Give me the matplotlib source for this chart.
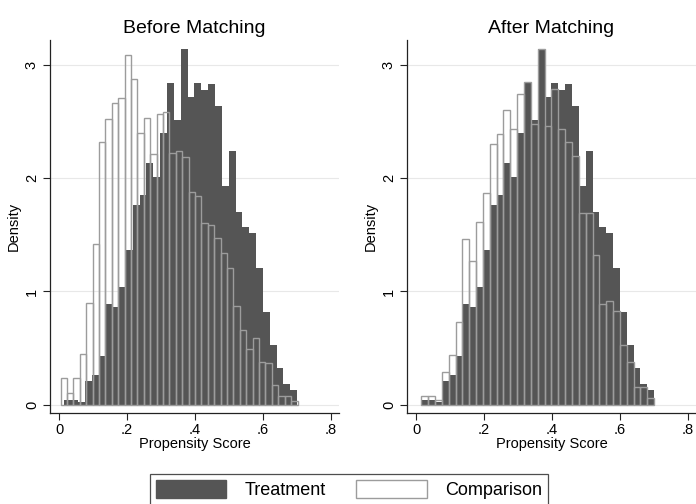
import numpy as np
import matplotlib
matplotlib.use("Agg")
import matplotlib.pyplot as plt
from matplotlib.patches import Patch

plt.rcParams['font.family'] = ['Liberation Sans', 'DejaVu Sans']

# bin edges (propensity score)
treat_edges = np.linspace(0.015, 0.700, 35)
comp_before_edges = np.linspace(0.004, 0.701, 38)
comp_after_edges = treat_edges

# densities
treatment = [0.045, 0.045, 0.02, 0.21, 0.26, 0.43, 0.89, 0.86, 1.04, 1.37,
             1.76, 1.85, 2.13, 2.01, 2.40, 2.84, 2.51, 3.14, 2.72, 2.84,
             2.78, 2.83, 2.64, 1.93, 2.24, 1.70, 1.57, 1.52, 1.21, 0.82,
             0.53, 0.32, 0.18, 0.13]

comparison_before = [0.24, 0.10, 0.24, 0.45, 0.90, 1.42, 2.32, 2.52, 2.66, 2.71,
                     3.09, 2.88, 2.40, 2.53, 2.21, 2.57, 2.58, 2.22, 2.24, 2.19,
                     1.88, 1.84, 1.60, 1.59, 1.47, 1.34, 1.21, 0.87, 0.66, 0.49,
                     0.59, 0.38, 0.37, 0.17, 0.08, 0.08, 0.035]

comparison_after = [0.074, 0.074, 0.04, 0.29, 0.44, 0.73, 1.46, 1.27, 1.61, 1.87,
                    2.30, 2.39, 2.60, 2.43, 2.74, 2.85, 2.48, 3.14, 2.46, 2.79,
                    2.43, 2.32, 2.20, 1.69, 1.69, 1.32, 0.89, 0.92, 0.83, 0.53,
                    0.38, 0.16, 0.16, 0.06]

titles = ["Before Matching", "After Matching"]
x_ticks = [0, 0.2, 0.4, 0.6, 0.8]
x_labels = ["0", ".2", ".4", ".6", ".8"]
y_ticks = [0, 1, 2, 3]

dark = '#555555'
outline = '#9c9c9c'

fig = plt.figure(figsize=(6.96, 5.04), dpi=100)
ax1 = fig.add_axes([50/696, 1 - 413/504, 289/696, 373/504])
ax2 = fig.add_axes([407/696, 1 - 413/504, 289/696, 373/504])

panels = [(ax1, comp_before_edges, comparison_before),
          (ax2, comp_after_edges, comparison_after)]

for (ax, c_edges, c_vals), title in zip(panels, titles):
    ax.bar(treat_edges[:-1], treatment, width=np.diff(treat_edges), align='edge',
           color=dark, edgecolor=dark, linewidth=0, zorder=2)
    ax.bar(c_edges[:-1], c_vals, width=np.diff(c_edges), align='edge',
           fill=False, edgecolor=outline, linewidth=1.0, zorder=3)

    ax.set_xlim(-0.027, 0.823)
    ax.set_ylim(-0.073, 3.22)
    ax.set_xticks(x_ticks)
    ax.set_xticklabels(x_labels)
    ax.set_yticks(y_ticks)
    ax.set_yticklabels([str(t) for t in y_ticks], rotation=90, va='center')
    ax.tick_params(axis='both', labelsize=10.5, length=5, width=0.8, color='#222222')
    ax.tick_params(axis='y', pad=3)
    ax.tick_params(axis='x', pad=2)
    ax.grid(axis='y', color='#e8e8e8', linewidth=0.8, zorder=0)
    ax.set_axisbelow(True)
    for s in ['top', 'right']:
        ax.spines[s].set_visible(False)
    for s in ['left', 'bottom']:
        ax.spines[s].set_color('#222222')
        ax.spines[s].set_linewidth(0.9)
    ax.set_title(title, fontsize=14, pad=5)
    ax.set_xlabel("Propensity Score", fontsize=10.5, labelpad=0)
    ax.set_ylabel("Density", fontsize=10.5, labelpad=3)

handles = [Patch(facecolor=dark, edgecolor=dark, label='Treatment'),
           Patch(facecolor='white', edgecolor=outline, linewidth=1.0, label='Comparison')]
leg = fig.legend(handles=handles, loc='upper center', bbox_to_anchor=(349/696, 1 - 474/504),
                 ncol=2, fontsize=13, frameon=True, fancybox=False,
                 handlelength=3.9, handleheight=1.1, handletextpad=1.0,
                 columnspacing=1.7, borderpad=0.35, borderaxespad=0)
leg.get_frame().set_edgecolor('#222222')
leg.get_frame().set_linewidth(0.9)

fig.savefig('out.png', dpi=100)
